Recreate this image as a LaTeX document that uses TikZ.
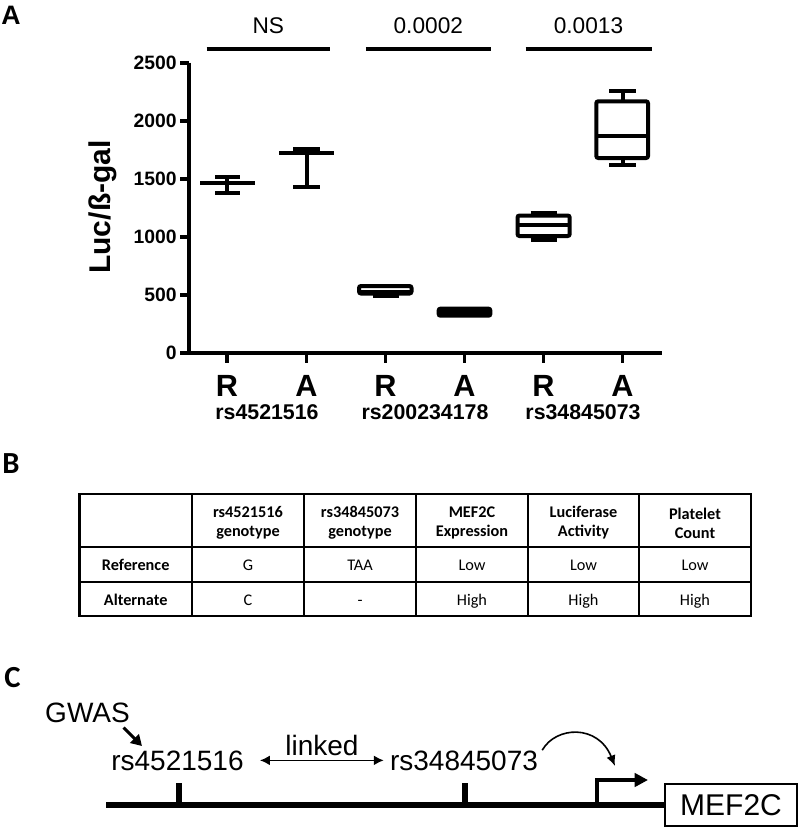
\documentclass[tikz,border=0pt]{standalone}
\usepackage{fontspec}
\setmainfont{Liberation Sans}
\newfontfamily\calfont{Carlito}
\usetikzlibrary{arrows.meta}
\begin{document}
\begin{tikzpicture}[x=0.75pt,y=-0.75pt,
  txt/.style={inner sep=0pt},
  panelA/.style={txt,anchor=base west,font=\bfseries\fontsize{20}{24}\selectfont},
  panelBC/.style={txt,anchor=base west,font=\calfont\bfseries\fontsize{23}{26}\selectfont},
  sigbar/.style={line width=3.2pt},
  sigtxt/.style={txt,anchor=base,font=\fontsize{17}{20}\selectfont},
  axis/.style={line width=2.3pt},
  ylab/.style={txt,anchor=east,font=\bfseries\fontsize{14.5}{17}\selectfont},
  xlab/.style={txt,font=\bfseries\fontsize{23}{26}\selectfont},
  grouplab/.style={txt,font=\bfseries\fontsize{16}{19}\selectfont},
  bx/.style={line width=3pt},
  tbl/.style={line width=1.9pt},
  thead/.style={txt,align=center,font=\calfont\bfseries\fontsize{12.2}{14.3}\selectfont},
  trow/.style={txt,anchor=base,font=\calfont\bfseries\fontsize{12.2}{14.3}\selectfont},
  tcell/.style={txt,anchor=base,font=\calfont\fontsize{12.2}{14.3}\selectfont},
  ctxt/.style={txt,anchor=base,font=\fontsize{21}{25}\selectfont},
  gene/.style={line width=3.8pt},
]
\useasboundingbox (0,0) rectangle (800,828);

% ---------------- Panel A ----------------
\node[panelA] (pA) at (1,24) {A};

\foreach \xa/\xb/\t [count=\i] in {206.6/330/NS, 365.8/490.8/0.0002, 525.5/651.5/0.0013}{
  \draw[sigbar] (\xa,49) -- (\xb,49);
  \node[sigtxt] (sig\i) at ({(\xa+\xb)/2},33) {\t};
}

\draw[axis] (189,62.7) -- (189,353) -- (662,353);
\foreach \v in {0,500,1000,1500,2000,2500}{
  \draw[axis] (180,{353-0.116*\v}) -- (189,{353-0.116*\v});
  \node[ylab] (yt\v) at (177,{353-0.116*\v}) {\v};
}
\foreach \x/\l [count=\i] in {227/R,306.5/A,385.5/R,464.5/A,543.5/R,622.5/A}{
  \draw[axis] (\x,353) -- (\x,363);
  \node[xlab] (xl\i) at (\x,386) {\l};
}
\node[grouplab] (g1) at (267,412) {rs4521516};
\node[grouplab] (g2) at (425,412) {rs200234178};
\node[grouplab] (g3) at (583,412) {rs34845073};

\node[txt,rotate=90,font=\bfseries\fontsize{22.5}{26}\selectfont] (ylabel) at (103,207) {Luc/ß-gal};

% box 1 R
\draw[bx] (215,176.7) -- (240,176.7);
\draw[bx] (227,176.7) -- (227,192.7);
\draw[bx] (215,192.7) -- (240,192.7);
\draw[bx] (200,183.3) -- (255,183.3);
% box 1 A
\draw[bx] (293,148.5) -- (320,148.5);
\draw[bx] (306.7,148.5) -- (306.7,187);
\draw[bx] (293,187) -- (320,187);
\draw[bx] (279,153) -- (334,153);
% box 2 R
\draw[bx] (372.5,296) -- (398.5,296);
\draw[bx,rounded corners=1.5pt] (359,286) rectangle (411.5,293.5);
\draw[bx] (359,292.4) -- (411.5,292.4);
% box 2 A
\fill[rounded corners=2.5pt] (436.7,306.7) rectangle (492.3,317.7);
% box 3 R
\draw[bx] (530.7,213) -- (556.7,213);
\draw[bx] (543.5,213) -- (543.5,215.5);
\draw[bx] (543.5,236) -- (543.5,240.3);
\draw[bx] (530.7,240.3) -- (556.7,240.3);
\draw[bx,rounded corners=1.5pt] (517.5,215.5) rectangle (569.7,236);
\draw[bx] (517.5,224.5) -- (569.7,224.5);
% box 3 A
\draw[bx] (609.3,90.8) -- (635.7,90.8);
\draw[bx] (622.5,90.8) -- (622.5,101.3);
\draw[bx] (622.5,158) -- (622.5,165.3);
\draw[bx] (609.3,165.3) -- (635.7,165.3);
\draw[bx,rounded corners=1.5pt] (596.3,101.3) rectangle (648,158);
\draw[bx] (596.3,135.5) -- (648,135.5);

% ---------------- Panel B ----------------
\node[panelBC] (pB) at (2,473) {B};

\draw[tbl] (79.5,494) rectangle (751,616);
\draw[tbl] (79.5,547) -- (751,547);
\draw[tbl] (79.5,582) -- (751,582);
\foreach \x in {192,304,416,528,639}{
  \draw[tbl] (\x,494) -- (\x,616);
}
\node[thead] (h1) at (248,523) {rs4521516\\genotype};
\node[thead] (h2) at (360,523) {rs34845073\\genotype};
\node[thead] (h3) at (472,523) {MEF2C\\Expression};
\node[thead] (h4) at (583.5,523) {Luciferase\\Activity};
\node[thead] (h5) at (695,523) {Platelet\\Count};

\node[trow] (rref) at (135.7,570.7) {Reference};
\node[trow] (ralt) at (135.7,605) {Alternate};
\foreach \x/\a/\b [count=\i] in {248/G/C, 360/TAA/-, 472/Low/High, 583.5/Low/High, 695/Low/High}{
  \node[tcell] (ca\i) at (\x,570.7) {\a};
  \node[tcell] (cb\i) at (\x,605) {\b};
}

% ---------------- Panel C ----------------
\node[panelBC] (pC) at (4,687) {C};

\node[ctxt] (gwas) at (87.5,722) {GWAS};
\node[ctxt] (snp1) at (177.5,770) {rs4521516};
\node[ctxt] (snp2) at (464,770) {rs34845073};
\node[ctxt] (linked) at (322,755) {linked};

\node[draw,line width=1.5pt,minimum width=132pt*0.75/0.75*0.75,minimum height=32pt,inner sep=0pt,
      font=\fontsize{22.5}{26}\selectfont] (mef) at (731,805) {MEF2C};

\coordinate (t1top) at (179,783);
\coordinate (t1bot) at (179,805);
\coordinate (t2top) at (465,783);
\coordinate (t2bot) at (465,805);
\coordinate (lineL) at (106,805);
\coordinate (tss) at (597,805);
\coordinate (tssend) at (648,780);
\coordinate (curveend) at (615,766);
\coordinate (gwasend) at (142,746);

\draw[gene] (lineL) -- (mef.west);
\draw[gene] (t1top) -- (t1bot);
\draw[gene] (t2top) -- (t2bot);
\draw[line width=3pt,-{Triangle[length=10pt,width=10pt]}] (tss) |- (tssend);

\draw[line width=2.2pt,-{Triangle[length=8pt,width=9pt]}] ([shift={(36,5)}]gwas.south) -- (gwasend);
\draw[line width=1.3pt,{Latex[length=7.5pt,width=7.5pt]}-{Latex[length=7.5pt,width=7.5pt]}]
  ([xshift=12pt]snp1.east) -- ([xshift=-4.5pt]snp2.west);
\draw[line width=1.2pt,-{Latex[length=8pt,width=7pt]}]
  ([xshift=3pt]snp2.north east) .. controls (556,726) and (598,724) .. (curveend);
\end{tikzpicture}
\end{document}
